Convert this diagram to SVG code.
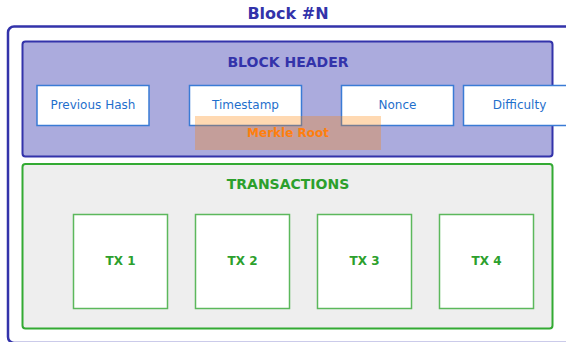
<svg xmlns="http://www.w3.org/2000/svg" width="566" height="342" viewBox="0 0 566 342">
<style>
text{font-family:"DejaVu Sans","Liberation Sans",sans-serif;text-anchor:middle;dominant-baseline:central}
.title{font-size:16px;font-weight:bold;fill:#3333aa}
.sec{font-size:14px;font-weight:bold}
.field rect{fill:#ffffff;stroke:#3a7bd5;stroke-width:1.5}
.field text{font-size:12px;fill:#1f6fcc}
.tx rect{fill:#ffffff;stroke:#5cb85c;stroke-width:1.5}
.tx text{font-size:12px;font-weight:bold;fill:#2ca02c}
</style>
<rect width="566" height="342" fill="#ffffff"/>
<g id="block">
<rect x="8" y="26.5" width="600" height="316.5" rx="6" fill="#ffffff" stroke="#3333aa" stroke-width="2.5"/>
<text class="title" x="288" y="13.5">Block #N</text>
</g>
<g id="header">
<rect x="22.5" y="41.5" width="530" height="115" rx="3" fill="#ababdd" stroke="#3333aa" stroke-width="2"/>
<text class="sec" x="288" y="62" fill="#3333aa">BLOCK HEADER</text>
</g>
<g id="prev-hash" class="field"><rect x="37" y="85.5" width="112" height="40"/><text x="93" y="105">Previous Hash</text></g>
<g id="timestamp" class="field"><rect x="189.5" y="85.5" width="112" height="40"/><text x="245.5" y="105">Timestamp</text></g>
<g id="nonce" class="field"><rect x="341.5" y="85.5" width="112" height="40"/><text x="397.5" y="105">Nonce</text></g>
<g id="difficulty" class="field"><rect x="463.5" y="85.5" width="112" height="40"/><text x="519.5" y="105">Difficulty</text></g>
<g id="merkle-root">
<rect x="195" y="116" width="186" height="34" fill="#ff8000" fill-opacity="0.3"/>
<text x="288" y="132.5" font-size="12" font-weight="bold" fill="#ff7f0e">Merkle Root</text>
</g>
<g id="transactions">
<rect x="22.5" y="164" width="530" height="164.5" rx="3" fill="#eeeeee" stroke="#33aa33" stroke-width="2"/>
<text class="sec" x="288" y="184" fill="#2ca02c">TRANSACTIONS</text>
</g>
<g id="tx1" class="tx"><rect x="73.5" y="214.5" width="94" height="94"/><text x="120.5" y="261">TX 1</text></g>
<g id="tx2" class="tx"><rect x="195.5" y="214.5" width="94" height="94"/><text x="242.5" y="261">TX 2</text></g>
<g id="tx3" class="tx"><rect x="317.5" y="214.5" width="94" height="94"/><text x="364.5" y="261">TX 3</text></g>
<g id="tx4" class="tx"><rect x="439.5" y="214.5" width="94" height="94"/><text x="486.5" y="261">TX 4</text></g>
<g id="connectors"/>
</svg>
